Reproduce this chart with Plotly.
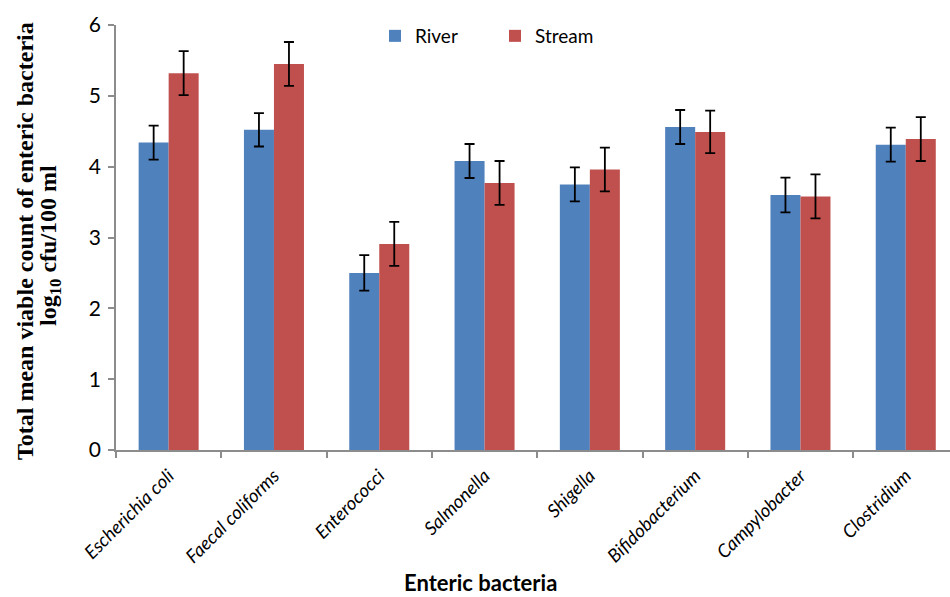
import plotly.graph_objects as go

categories = ["Escherichia coli", "Faecal coliforms", "Enterococci", "Salmonella",
              "Shigella", "Bifidobacterium", "Campylobacter", "Clostridium"]
river = [4.34, 4.52, 2.50, 4.08, 3.75, 4.56, 3.60, 4.31]
river_err = [0.24, 0.235, 0.25, 0.24, 0.24, 0.24, 0.245, 0.24]
stream = [5.32, 5.45, 2.91, 3.77, 3.96, 4.49, 3.58, 4.39]
stream_err = [0.31, 0.31, 0.31, 0.31, 0.31, 0.30, 0.31, 0.31]
y_ticks = [0, 1, 2, 3, 4, 5, 6]

BLUE = "#4F81BD"
RED = "#C0504D"
AX = "#8C8C8C"
SANS = "Lato, 'Open Sans', sans-serif"
SERIF = "'Liberation Serif', 'Times New Roman', serif"
PW = 834.0  # plot width in px
PH = 425.0  # plot height in px

fig = go.Figure()
fig.add_trace(go.Bar(
    name="River", x=categories, y=river, marker_color=BLUE, marker_line_width=0,
    error_y=dict(type="data", array=river_err, color="black", thickness=1.8, width=5),
))
fig.add_trace(go.Bar(
    name="Stream", x=categories, y=stream, marker_color=RED, marker_line_width=0,
    error_y=dict(type="data", array=stream_err, color="black", thickness=1.8, width=5),
))

fig.update_layout(
    width=950, height=597,
    margin=dict(l=116, r=0, t=25, b=147),
    paper_bgcolor="white", plot_bgcolor="white",
    barmode="group", bargap=0.43, bargroupgap=0,
    font=dict(family=SANS, color="black"),
    legend=dict(
        orientation="h", x=(375 - 116) / PW, y=(450 - 36) / PH, xanchor="left", yanchor="middle",
        font=dict(family=SANS, size=19, color="black"),
        entrywidth=75, entrywidthmode="pixels",
        bgcolor="rgba(0,0,0,0)", itemwidth=30,
    ),
    xaxis=dict(
        range=[-0.5, 7.42], showline=True, linecolor=AX, linewidth=1.5,
        ticks="outside", tickson="boundaries", ticklen=6, tickcolor=AX, tickwidth=1.5,
        tickangle=-45, tickfont=dict(family=SANS, size=18.5, style="italic"),
        ticklabelstandoff=6,
        showgrid=False, zeroline=False, automargin=False,
    ),
    yaxis=dict(
        range=[0, 6], tickvals=y_ticks, showline=True, linecolor=AX, linewidth=1.5,
        ticks="outside", ticklen=6, tickcolor=AX, tickwidth=1.5,
        tickfont=dict(family=SANS, size=21), showgrid=False, zeroline=False,
        ticklabelstandoff=3, automargin=False,
    ),
    annotations=[
        dict(text="<b>Total mean viable count of enteric bacteria</b>", textangle=-90,
             xref="paper", yref="paper", x=(25 - 116) / PW, y=(450 - 241) / PH,
             xanchor="center", yanchor="middle", showarrow=False,
             font=dict(family=SERIF, size=24)),
        dict(text="<b>log<sub>10</sub> cfu/100 ml</b>", textangle=-90,
             xref="paper", yref="paper", x=(50 - 116) / PW, y=(450 - 246) / PH,
             xanchor="center", yanchor="middle", showarrow=False,
             font=dict(family=SERIF, size=24)),
        dict(text="<b>Enteric bacteria</b>", xref="paper", yref="paper",
             x=(480 - 116) / PW, y=-(582 - 450) / PH, xanchor="center", yanchor="middle",
             showarrow=False, font=dict(family=SANS, size=22)),
    ],
)

fig.write_html("out.html", config={"displayModeBar": False},
               post_script="document.body.style.margin='0px';")
